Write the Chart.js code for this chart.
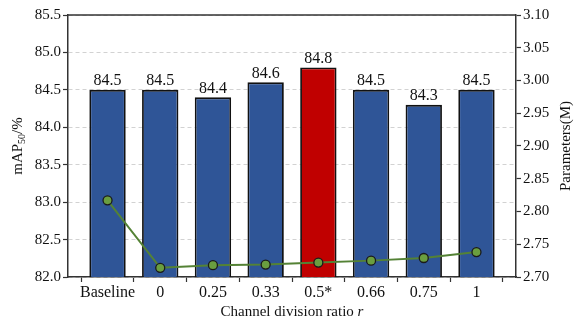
<!DOCTYPE html>
<html>
<head>
<meta charset="utf-8">
<script src="https://cdn.jsdelivr.net/npm/chart.js@4/dist/chart.umd.min.js"></script>
<style>
  html, body { margin: 0; padding: 0; background: #fff; }
  #wrap { width: 578px; height: 325px; }
</style>
</head>
<body>
<div id="wrap"><canvas id="canvas"></canvas></div>
<script>
'use strict';

var ratios = ['Baseline', '0', '0.25', '0.33', '0.5*', '0.66', '0.75', '1'];
var mapValues = [84.5, 84.5, 84.4, 84.6, 84.8, 84.5, 84.3, 84.5];
var paramValues = [2.817, 2.714, 2.718, 2.719, 2.722, 2.725, 2.729, 2.738];
var barColors = ['#2F5597', '#2F5597', '#2F5597', '#2F5597', '#C00000', '#2F5597', '#2F5597', '#2F5597'];

var serif = "'Liberation Serif', 'Times New Roman', serif";

function toPoints(values) {
	var pts = [];
	for (var i = 0; i < values.length; i++) {
		pts.push({ x: i, y: values[i] });
	}
	return pts;
}

// labels over the bars + frame + axis titles
var extras = {
	id: 'extras',
	afterDatasetsDraw: function(chart) {
		var ctx = chart.ctx;
		var meta = chart.getDatasetMeta(1);
		ctx.save();
		ctx.font = '16px ' + serif;
		ctx.fillStyle = '#111';
		ctx.textAlign = 'center';
		ctx.textBaseline = 'bottom';
		for (var i = 0; i < meta.data.length; i++) {
			var bar = meta.data[i];
			ctx.fillText(mapValues[i].toFixed(1), bar.x, bar.y - 1);
		}
		ctx.restore();
	},
	afterDraw: function(chart) {
		var ctx = chart.ctx;
		var a = chart.chartArea;
		ctx.save();
		ctx.strokeStyle = '#333';
		ctx.lineWidth = 1.5;
		ctx.beginPath();
		ctx.moveTo(a.left, a.top);
		ctx.lineTo(a.right, a.top);
		ctx.stroke();

		ctx.fillStyle = '#111';
		ctx.textBaseline = 'middle';

		// left title mAP50/%
		ctx.save();
		ctx.translate(18, (a.top + a.bottom) / 2);
		ctx.rotate(-Math.PI / 2);
		ctx.font = '15px ' + serif;
		var w1 = ctx.measureText('mAP').width;
		var w3 = ctx.measureText('/%').width;
		ctx.font = '10px ' + serif;
		var w2 = ctx.measureText('50').width;
		var x0 = -(w1 + w2 + w3) / 2;
		ctx.textAlign = 'left';
		ctx.font = '15px ' + serif;
		ctx.fillText('mAP', x0, 0);
		ctx.font = '10px ' + serif;
		ctx.fillText('50', x0 + w1, 4);
		ctx.font = '15px ' + serif;
		ctx.fillText('/%', x0 + w1 + w2, 0);
		ctx.restore();

		// right title
		ctx.save();
		ctx.translate(566, (a.top + a.bottom) / 2);
		ctx.rotate(-Math.PI / 2);
		ctx.font = '15px ' + serif;
		ctx.textAlign = 'center';
		ctx.fillText('Parameters(M)', 0, 0);
		ctx.restore();

		// x title with italic r
		ctx.font = '15px ' + serif;
		var t = 'Channel division ratio ';
		var tw = ctx.measureText(t).width;
		ctx.font = 'italic 15px ' + serif;
		var rw = ctx.measureText('r').width;
		var sx = (a.left + a.right) / 2 - (tw + rw) / 2;
		ctx.textAlign = 'left';
		ctx.font = '15px ' + serif;
		ctx.fillText(t, sx, 312);
		ctx.font = 'italic 15px ' + serif;
		ctx.fillText('r', sx + tw, 312);
		ctx.restore();
	}
};

var config = {
	type: 'bar',
	data: {
		datasets: [{
			type: 'line',
			label: 'Parameters',
			data: toPoints(paramValues),
			yAxisID: 'y1',
			order: 0,
			borderColor: '#548235',
			borderWidth: 2,
			pointRadius: 4.5,
			pointBackgroundColor: '#6A9E3F',
			pointBorderColor: '#1a1a1a',
			pointBorderWidth: 1.3,
			tension: 0,
			fill: false
		}, {
			type: 'bar',
			label: 'mAP50',
			data: toPoints(mapValues),
			yAxisID: 'y',
			order: 1,
			backgroundColor: barColors,
			borderColor: '#111',
			borderWidth: 1.8,
			barPercentage: 0.69,
			categoryPercentage: 1.0
		}]
	},
	options: {
		responsive: false,
		animation: false,
		layout: { padding: { top: 15, right: 0, left: 0, bottom: 0 } },
		plugins: {
			legend: { display: false },
			tooltip: { enabled: false }
		},
		scales: {
			x: {
				type: 'linear',
				min: -0.75,
				max: 7.75,
				offset: false,
				afterBuildTicks: function(scale) {
					scale.ticks = ratios.map(function(r, i) { return { value: i }; });
				},
				grid: { display: true, drawOnChartArea: false, tickLength: 5, tickColor: '#333', tickWidth: 1.2 },
				border: { color: '#333', width: 1.5 },
				ticks: {
					color: '#111',
					font: { family: serif, size: 16 },
					padding: 1,
					maxRotation: 0,
					autoSkip: false,
					callback: function(v) { return ratios[v] !== undefined ? ratios[v] : ''; }
				},
				afterFit: function(scale) { scale.height = 48; }
			},
			y: {
				position: 'left',
				min: 82.0,
				max: 85.5,
				ticks: {
					stepSize: 0.5,
					color: '#111',
					font: { family: serif, size: 15 },
					padding: 2,
					callback: function(v) { return v.toFixed(1); }
				},
				grid: { color: '#d2d2d2', lineWidth: 1, tickLength: 5, tickColor: '#333', tickWidth: 1.2, tickBorderDash: [] },
				border: { color: '#333', width: 1.5, dash: [4, 3] },
				afterFit: function(scale) { scale.width = 68; }
			},
			y1: {
				position: 'right',
				min: 2.70,
				max: 3.10,
				ticks: {
					stepSize: 0.05,
					color: '#111',
					font: { family: serif, size: 15 },
					padding: 2,
					callback: function(v) { return v.toFixed(2); }
				},
				grid: { drawOnChartArea: false, tickLength: 5, tickColor: '#333', tickWidth: 1.2 },
				border: { color: '#333', width: 1.5 },
				afterFit: function(scale) { scale.width = 62; }
			}
		}
	},
	plugins: [extras]
};

var ctx = document.getElementById('canvas');
ctx.width = 578;
ctx.height = 325;
window.mychart = new Chart(ctx.getContext('2d'), config);
</script>
</body>
</html>
